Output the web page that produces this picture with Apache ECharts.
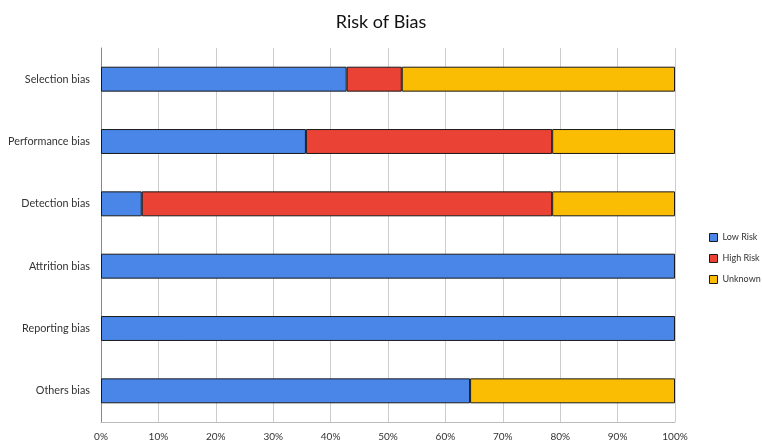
<!DOCTYPE html>
<html><head><meta charset="utf-8">
<script src="https://cdn.jsdelivr.net/npm/echarts@6/dist/echarts.min.js"></script>
<style>html,body{margin:0;padding:0;background:#fff}#c{width:762px;height:443px}</style>
</head><body><div id="c"></div>
<script>
const categories = ["Selection bias","Performance bias","Detection bias","Attrition bias","Reporting bias","Others bias"];
const lowRisk = [42.8, 35.7, 7.1, 100, 100, 64.3];
const highRisk = [9.6, 42.9, 71.5, 0, 0, 0];
const unknown = [47.6, 21.4, 21.4, 0, 0, 35.7];
const tickLabels = ["0%","10%","20%","30%","40%","50%","60%","70%","80%","90%","100%"];
const seriesNames = ["Low Risk","High Risk","Unknown"];
const colors = ["#4a86e8","#ea4335","#fbbc04"];

const font = "Lato, 'Open Sans', sans-serif";
const chart = echarts.init(document.getElementById('c'));
const mk = (name, data, color) => ({
  name, type: 'bar', stack: 'total', data: data.map(v => v === 0 ? null : v),
  barCategoryGap: '60%',
  itemStyle: { color, borderColor: '#1a1a1a', borderWidth: 1 },
  emphasis: { disabled: true }
});
chart.setOption({
  animation: false,
  title: { text: 'Risk of Bias', left: 'center', top: 8,
    textStyle: { fontFamily: font, fontSize: 18, fontWeight: 'normal', color: '#111' } },
  legend: { orient: 'vertical', left: 704, top: 228, itemWidth: 8, itemHeight: 8, itemGap: 12,
    icon: 'rect', data: seriesNames,
    textStyle: { fontFamily: font, fontSize: 9, color: '#333' },
    itemStyle: { borderColor: '#1a1a1a', borderWidth: 1 } },
  grid: { left: 101, right: 87, top: 48, bottom: 21, containLabel: false },
  xAxis: { type: 'value', min: 0, max: 100, interval: 10,
    axisLabel: { formatter: v => tickLabels[v/10], fontFamily: font, fontSize: 10, color: '#333', margin: 10 },
    splitLine: { show: true, lineStyle: { color: '#cccccc' } },
    axisLine: { show: true, lineStyle: { color: '#bbbbbb' } }, axisTick: { show: false } },
  yAxis: { type: 'category', data: categories, inverse: true,
    axisLabel: { fontFamily: font, fontSize: 10.8, color: '#333', margin: 11 },
    axisLine: { show: true, lineStyle: { color: '#888' } }, axisTick: { show: false } },
  series: [mk(seriesNames[0], lowRisk, colors[0]), mk(seriesNames[1], highRisk, colors[1]), mk(seriesNames[2], unknown, colors[2])]
});
</script></body></html>
